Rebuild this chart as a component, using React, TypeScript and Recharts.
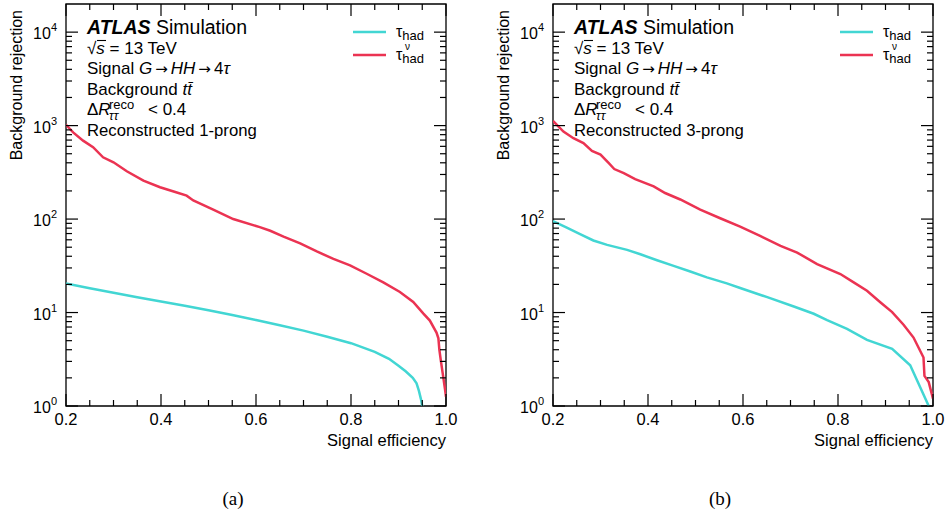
import { LineChart, Line, XAxis, YAxis, ReferenceArea } from "recharts";

// signal efficiency ticks (majors every 0.2, minors every 0.05)
const X_TICKS = [0.2, 0.25, 0.3, 0.35, 0.4, 0.45, 0.5, 0.55, 0.6, 0.65, 0.7, 0.75, 0.8, 0.85, 0.9, 0.95, 1.0];
// log ticks, decades plus 2..9 minors
const Y_TICKS = [
	1, 2, 3, 4, 5, 6, 7, 8, 9,
	10, 20, 30, 40, 50, 60, 70, 80, 90,
	100, 200, 300, 400, 500, 600, 700, 800, 900,
	1000, 2000, 3000, 4000, 5000, 6000, 7000, 8000, 9000,
	10000,
];

// (a) 1-prong
const EFF_A_HAD = [0.2, 0.25, 0.3, 0.35, 0.4, 0.45, 0.5, 0.55, 0.6, 0.65, 0.7, 0.75, 0.8, 0.85, 0.88, 0.9, 0.915, 0.93, 0.938, 0.943, 0.947, 0.95];
const REJ_A_HAD = [20.5, 18.2, 16.3, 14.6, 13.1, 11.8, 10.6, 9.4, 8.3, 7.3, 6.4, 5.5, 4.7, 3.8, 3.2, 2.7, 2.35, 2.0, 1.75, 1.45, 1.2, 1.0];
const EFF_A_NU = [0.2, 0.215, 0.236, 0.257, 0.278, 0.3, 0.328, 0.363, 0.398, 0.43, 0.454, 0.468, 0.51, 0.552, 0.608, 0.63, 0.658, 0.693, 0.728, 0.763, 0.798, 0.833, 0.868, 0.903, 0.931, 0.952, 0.966, 0.98, 0.984, 0.986, 0.989, 0.993, 0.998, 1.0];
const REJ_A_NU = [1020, 846, 690, 587, 458, 405, 325, 258, 219, 195, 178, 158, 126, 100, 82, 75, 65, 55, 45, 37.5, 32, 26, 21, 16.6, 13, 9.8, 8.2, 6.1, 5.3, 4.0, 3.1, 2.25, 1.5, 1.25];

// (b) 3-prong
const EFF_B_HAD = [0.2, 0.229, 0.257, 0.285, 0.314, 0.356, 0.384, 0.419, 0.454, 0.489, 0.524, 0.566, 0.594, 0.651, 0.707, 0.749, 0.777, 0.819, 0.861, 0.914, 0.952, 0.991];
const REJ_B_HAD = [95, 81, 69, 59, 53, 46.8, 42, 36.3, 31.6, 27.5, 23.8, 20.5, 18.3, 14.6, 11.6, 9.7, 8.3, 6.7, 5.1, 4.1, 2.73, 1.0];
const EFF_B_NU = [0.2, 0.222, 0.243, 0.264, 0.282, 0.3, 0.317, 0.329, 0.349, 0.373, 0.412, 0.436, 0.468, 0.51, 0.552, 0.594, 0.636, 0.679, 0.714, 0.756, 0.805, 0.833, 0.861, 0.889, 0.914, 0.938, 0.959, 0.98, 0.982, 0.991, 1.0];
const REJ_B_NU = [1120, 863, 733, 650, 537, 490, 399, 343, 310, 268, 224, 190, 162, 126, 102, 83, 66, 51.6, 43.8, 33, 25.8, 21, 17.1, 12.9, 10.1, 7.4, 5.4, 3.3, 2.1, 1.8, 1.2];

const CYAN = "#42d6d3";
const RED = "#eb3352";
const FONT = "'Liberation Sans', Arial, Helvetica, sans-serif";
const SERIF = "'Liberation Serif', 'Times New Roman', serif";
const ARROW_FONT = "'DejaVu Sans', sans-serif";

const PLOT_W = 380;
const PLOT_H = 402;

const toRows = (eff: number[], rej: number[]) => eff.map((e, i) => ({ eff: e, rej: rej[i] }));

const XTick = (props: any) => {
	const { x, y, payload } = props;
	const v = payload.value;
	const major = Math.abs(v * 5 - Math.round(v * 5)) < 1e-6;
	const len = major ? 12 : 6;
	const top = y - PLOT_H;
	return (
		<g>
			<line x1={x} y1={y} x2={x} y2={y - len} stroke="#000" strokeWidth={1.2} />
			<line x1={x} y1={top} x2={x} y2={top + len} stroke="#000" strokeWidth={1.2} />
			{major && (
				<text x={x} y={y + 19} textAnchor="middle" fontSize={16.5} fontFamily={FONT} fill="#000">
					{v.toFixed(1)}
				</text>
			)}
		</g>
	);
};

const YTick = (props: any) => {
	const { x, y, payload } = props;
	const v = payload.value;
	const lg = Math.log10(v);
	const major = Math.abs(lg - Math.round(lg)) < 1e-6;
	const len = major ? 12 : 6;
	const right = x + PLOT_W;
	return (
		<g>
			<line x1={x} y1={y} x2={x + len} y2={y} stroke="#000" strokeWidth={1.2} />
			<line x1={right} y1={y} x2={right - len} y2={y} stroke="#000" strokeWidth={1.2} />
			{major && (
				<text x={x - 9} y={y + 7} textAnchor="end" fontSize={16} fontFamily={FONT} fill="#000">
					10
					<tspan dy={-8} fontSize={11}>{Math.round(lg)}</tspan>
				</text>
			)}
		</g>
	);
};

interface PanelProps {
	left: number;
	width: number;
	had: { eff: number; rej: number }[];
	nu: { eff: number; rej: number }[];
	prong: string;
	caption: string;
}

const Panel = ({ left, width, had, nu, prong, caption }: PanelProps) => (
	<div style={{ position: "absolute", left, top: 0, width, height: 516 }}>
		<LineChart width={width} height={440} margin={{ top: 4, right: width - 66 - PLOT_W, bottom: 0, left: 0 }}>
			<XAxis
				dataKey="eff"
				type="number"
				domain={[0.2, 1]}
				ticks={X_TICKS}
				interval={0}
				allowDataOverflow
				height={34}
				tickSize={0}
				tickMargin={0}
				tickLine={false}
				axisLine={false}
				tick={<XTick />}
			/>
			<YAxis
				type="number"
				scale="log"
				domain={[1, 20000]}
				ticks={Y_TICKS}
				interval={0}
				allowDataOverflow
				width={66}
				tickSize={0}
				tickMargin={0}
				tickLine={false}
				axisLine={false}
				tick={<YTick />}
			/>
			<Line data={had} dataKey="rej" type="linear" stroke={CYAN} strokeWidth={2.5} dot={false} isAnimationActive={false} />
			<Line data={nu} dataKey="rej" type="linear" stroke={RED} strokeWidth={2.5} dot={false} isAnimationActive={false} />
			<ReferenceArea x1={0.2} x2={1} y1={1} y2={20000} fill="none" fillOpacity={0} stroke="#000" strokeWidth={1.3} />
		</LineChart>
		<svg width={width} height={516} style={{ position: "absolute", left: 0, top: 0, pointerEvents: "none" }} fontFamily={FONT}>
			<text x={87} y={34} fontSize={19.5}>
				<tspan fontWeight="bold" fontStyle="italic">ATLAS</tspan>
				<tspan> Simulation</tspan>
			</text>
			<text x={87} y={54} fontSize={17}>
				√<tspan fontStyle="italic">s</tspan> = 13 TeV
			</text>
			<line x1={97} y1={40.5} x2={106} y2={40.5} stroke="#000" strokeWidth={1.1} />
			<text x={87} y={74} fontSize={17}>
				Signal <tspan fontStyle="italic">G</tspan>
				<tspan fontFamily={ARROW_FONT} fontSize={15}>{"\u2009→\u2009"}</tspan>
				<tspan fontStyle="italic">HH</tspan>
				<tspan fontFamily={ARROW_FONT} fontSize={15}>{"\u2009→\u2009"}</tspan>
				4<tspan fontStyle="italic">τ</tspan>
			</text>
			<text x={87} y={95} fontSize={17}>
				Background <tspan fontStyle="italic">tt̄</tspan>
			</text>
			<text x={87} y={115} fontSize={17}>
				Δ<tspan fontStyle="italic">R</tspan>
			</text>
			<text x={109} y={108.5} fontSize={13}>reco</text>
			<text x={109} y={119.5} fontSize={12.5} fontStyle="italic">ττ</text>
			<text x={148} y={115} fontSize={17}>&lt; 0.4</text>
			<text x={87} y={135.5} fontSize={16.7}>{`Reconstructed ${prong}`}</text>

			<line x1={353} y1={32} x2={386} y2={32} stroke={CYAN} strokeWidth={2.5} />
			<line x1={353} y1={55} x2={386} y2={55} stroke={RED} strokeWidth={2.5} />
			<text x={396} y={37} fontSize={16}>
				τ<tspan dy={3} fontSize={13}>had</tspan>
			</text>
			<text x={396} y={60} fontSize={16}>
				τ<tspan dy={3} fontSize={13}>had</tspan>
			</text>
			<text x={405} y={50} fontSize={10}>ν</text>

			<text x={446} y={446} fontSize={16.5} textAnchor="end">Signal efficiency</text>
			<text x={22} y={10} fontSize={16} textAnchor="end" transform="rotate(-90 22 10)">Background rejection</text>
			<text x={233} y={505} fontSize={19} textAnchor="middle" fontFamily={SERIF}>{caption}</text>
		</svg>
	</div>
);

export default function App() {
	return (
		<div style={{ position: "absolute", left: 0, top: 0, width: 949, height: 516, overflow: "hidden", background: "#fff" }}>
			<Panel left={0} width={470} had={toRows(EFF_A_HAD, REJ_A_HAD)} nu={toRows(EFF_A_NU, REJ_A_NU)} prong="1-prong" caption="(a)" />
			<Panel left={487} width={462} had={toRows(EFF_B_HAD, REJ_B_HAD)} nu={toRows(EFF_B_NU, REJ_B_NU)} prong="3-prong" caption="(b)" />
		</div>
	);
}
